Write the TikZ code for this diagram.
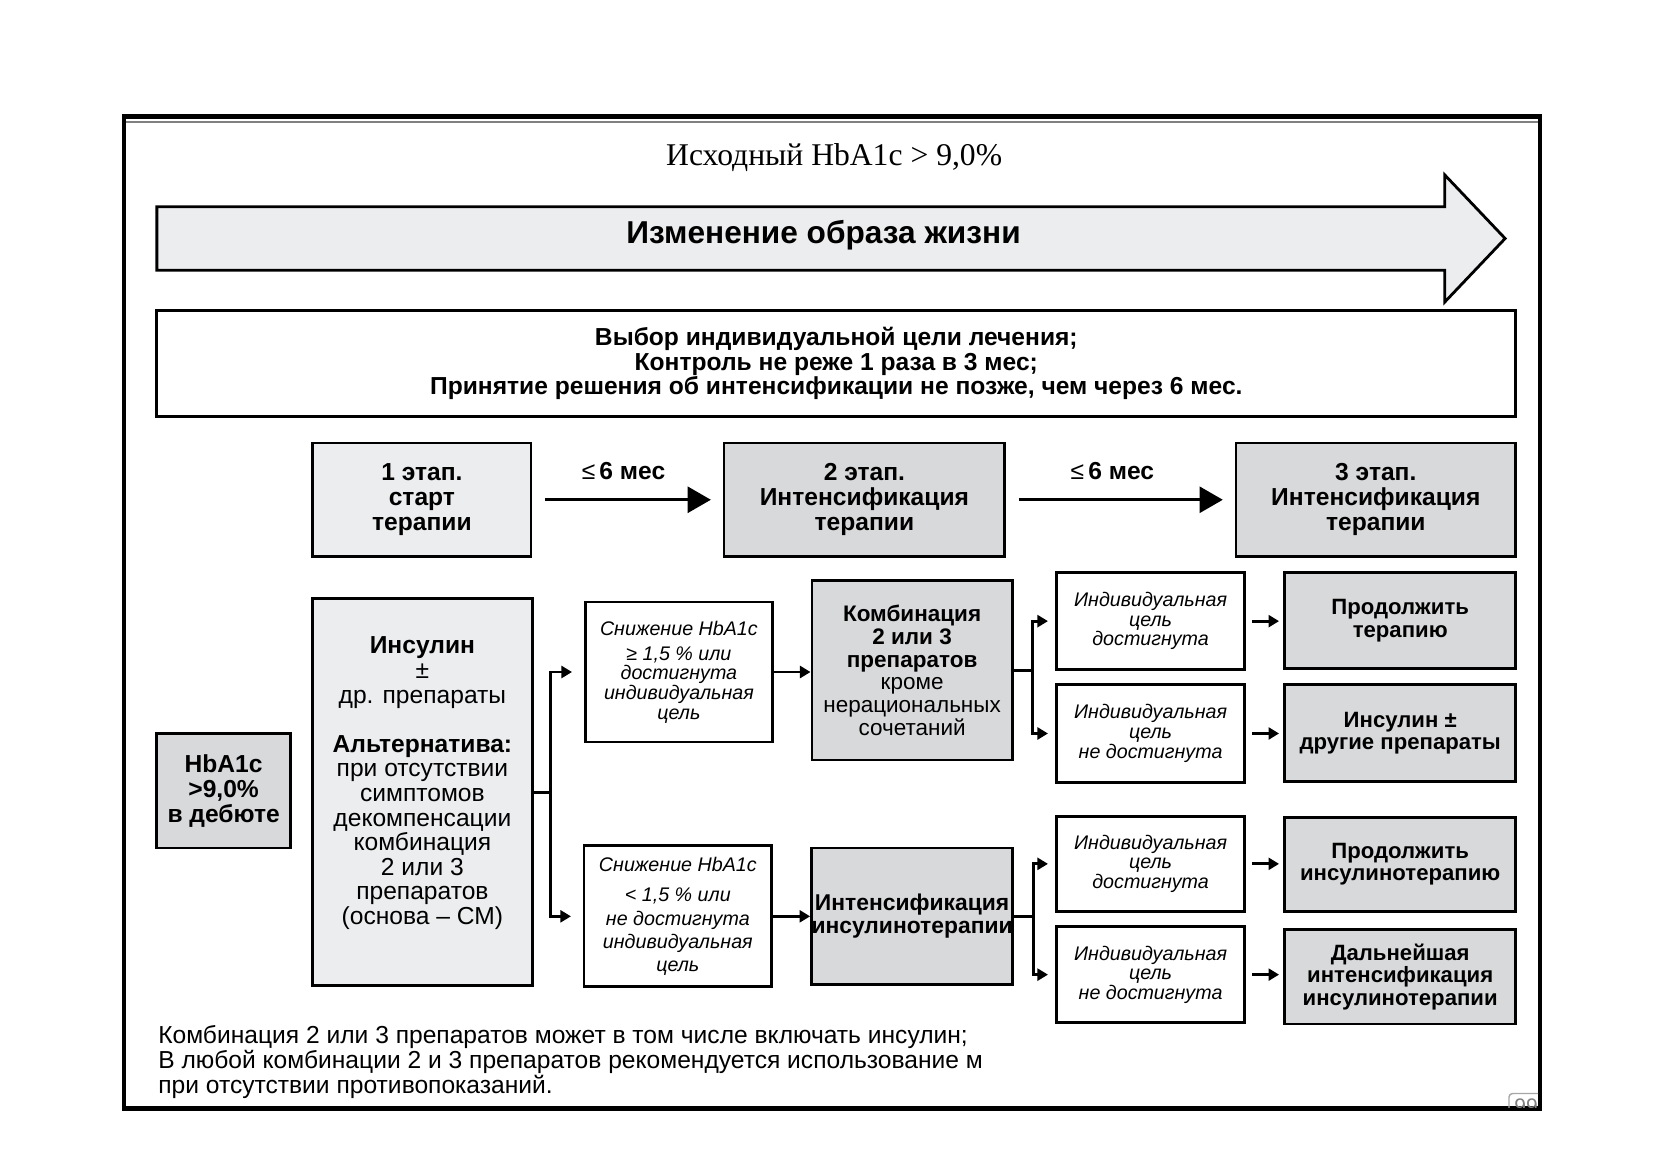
\documentclass[tikz,border=0pt]{standalone}
\usepackage{fontspec}
\setmainfont{Liberation Sans}
\newfontfamily\ttlfont{Liberation Serif}
\usetikzlibrary{arrows.meta}
\definecolor{lgray}{HTML}{ECEDEE}
\definecolor{dgray}{HTML}{D8D9DA}
\def\pxu{0.106mm}
\tikzset{
  box/.style 2 args={draw, line width=0.8pt, inner sep=0pt, align=center,
    minimum width=#1*\pxu, minimum height=#2*\pxu},
  stagebox/.style={fill=#1, font=\fontsize{7}{7.1}\selectfont\bfseries},
  goalbox/.style={fill=white, font=\fontsize{5.6}{5.6}\selectfont\itshape},
  resbox/.style={fill=dgray, font=\fontsize{6.3}{6.4}\selectfont\bfseries},
  bigtip/.style={-{Triangle[length=6.6pt,width=7.4pt]}, shorten <=1.27mm, shorten >=1.17mm},
  lbl/.style={inner sep=0pt, font=\fontsize{7}{7}\selectfont\bfseries}
}
\begin{document}
\begin{tikzpicture}[x=0.106mm, y=-0.106mm, line width=0.8pt,
  >={Triangle[length=3pt,width=3.4pt]}]
\useasboundingbox (0,0) rectangle (1568,1109);
% slide frame
\draw[line width=1.3pt] (117,110) rectangle (1453,1046);
\draw[gray, line width=0.4pt] (119,115) -- (1451,115);
\begin{scope}
\clip (1415,1020) rectangle (1451,1045);
\node[draw=gray!70, rounded corners=1pt, line width=0.4pt, text=gray, inner sep=1.5pt,
  anchor=north west, font=\fontsize{6}{6}\selectfont] (pg) at (1423,1031) {99};
\end{scope}

\node[font=\ttlfont\fontsize{9}{9}\selectfont] (ttl) at (787,149) {Исходный HbA1c > 9,0\%};

% lifestyle arrow
\draw[fill=lgray] (148,195) -- (1363,195) -- (1363,165) -- (1420,225) -- (1363,285)
  -- (1363,255) -- (148,255) -- cycle;
\node[font=\fontsize{9}{9}\selectfont\bfseries] (life) at (777,222) {Изменение образа жизни};

\node[box={1282}{100}, font=\fontsize{7}{7.06}\selectfont\bfseries] (aim) at (789,343)
  {Выбор индивидуальной цели лечения;\\Контроль не реже 1 раза в 3 мес;\\
   Принятие решения об интенсификации не позже, чем через 6 мес.};

% stages
\node[box={206}{107}, stagebox=lgray] (st1) at (398,471.5) {1 этап.\\старт\\терапии};
\node[box={265}{107}, stagebox=dgray] (st2) at (815.5,471.5) {2 этап.\\Интенсификация\\терапии};
\node[box={264}{107}, stagebox=dgray] (st3) at (1298,471.5) {3 этап.\\Интенсификация\\терапии};
\draw[bigtip] (st1.east) -- node[lbl, above=1.9mm, xshift=-0.4mm] {{\mdseries ≤}\,6 мес} (st2.west);
\draw[bigtip] (st2.east) -- node[lbl, above=1.9mm, xshift=-0.8mm] {{\mdseries ≤}\,6 мес} (st3.west);

% start
\node[box={126}{108}, stagebox=dgray] (hb) at (211,746) {HbA1c\\>9,0\%\\в дебюте};
\node[box={207}{365}, fill=lgray, font=\fontsize{7}{7}\selectfont] (ins) at (398.5,747.5)
  {\textbf{Инсулин}\\±\\др. препараты\\[7pt]\textbf{Альтернатива:}\\при отсутствии\\симптомов\\
   декомпенсации\\комбинация\\2 или 3\\препаратов\\(основа – СМ)\\[-0.4pt]};

% reduction boxes
\node[box={177}{132}, goalbox] (a1) at (640.5,634)
  {Снижение HbA1c\\[1.5pt]≥ 1,5 \% или\\достигнута\\индивидуальная\\цель};
\node[box={177}{133}, goalbox, font=\fontsize{5.6}{6.6}\selectfont\itshape] (b1) at (639.5,864.5)
  {Снижение HbA1c\\[2pt]< 1,5 \% или\\не достигнута\\индивидуальная\\цель};
\draw[->, shorten >=1.17mm] (ins.east) -- ++(16,0) |- (a1.west);
\draw[->, shorten >=1.17mm] (ins.east) -- ++(16,0) |- (b1.west);

% therapy boxes
\node[box={189}{169}, fill=dgray, font=\fontsize{6.4}{6.5}\selectfont] (c1) at (860.5,632.5)
  {\textbf{Комбинация}\\\textbf{2 или 3}\\\textbf{препаратов}\\кроме\\нерациональных\\сочетаний};
\node[box={189}{129}, resbox, font=\fontsize{6.5}{6.6}\selectfont\bfseries] (c2) at (860.5,864.5)
  {Интенсификация\\инсулинотерапии};
\draw[->] (a1.east) -- (a1.east -| c1.west);
\draw[->] (b1.east) -- (b1.east -| c2.west);

% goal reached / not reached
\node[box={177}{92}, goalbox] (g1) at (1085.5,586) {Индивидуальная\\цель\\достигнута};
\node[box={177}{92}, goalbox] (n1) at (1085.5,692) {Индивидуальная\\цель\\не достигнута};
\node[box={177}{90}, goalbox] (g2) at (1085.5,815) {Индивидуальная\\цель\\достигнута};
\node[box={177}{91}, goalbox] (n2) at (1085.5,919.5) {Индивидуальная\\цель\\не достигнута};
\draw[->, shorten >=0.74mm] (c1.east) -- ++(18,0) |- (g1.west);
\draw[->, shorten >=0.74mm] (c1.east) -- ++(18,0) |- (n1.west);
\draw[->, shorten >=0.74mm] (c2.east) -- ++(18,0) |- (g2.west);
\draw[->, shorten >=0.74mm] (c2.east) -- ++(18,0) |- (n2.west);

% results
\node[box={218}{91}, resbox] (r1) at (1321,585.5) {Продолжить\\терапию};
\node[box={218}{91}, resbox] (r2) at (1321,691.5) {Инсулин ±\\другие препараты};
\node[box={218}{89}, resbox] (r3) at (1321,815.5) {Продолжить\\инсулинотерапию};
\node[box={218}{89}, resbox] (r4) at (1321,921.5) {Дальнейшая\\интенсификация\\инсулинотерапии};
\draw[->, shorten <=0.64mm, shorten >=0.42mm] (g1.east) -- (g1.east -| r1.west);
\draw[->, shorten <=0.64mm, shorten >=0.42mm] (n1.east) -- (n1.east -| r2.west);
\draw[->, shorten <=0.64mm, shorten >=0.42mm] (g2.east) -- (g2.east -| r3.west);
\draw[->, shorten <=0.64mm, shorten >=0.42mm] (n2.east) -- (n2.east -| r4.west);

% note
\begin{scope}
\clip (140,955) rectangle (933,1040);
\node[anchor=north west, align=left, inner sep=0pt, font=\fontsize{7}{7.2}\selectfont] (note) at (148,966)
  {Комбинация 2 или 3 препаратов может в том числе включать инсулин;\\
   В любой комбинации 2 и 3 препаратов рекомендуется использование м\\
   при отсутствии противопоказаний.};
\end{scope}
\end{tikzpicture}
\end{document}
